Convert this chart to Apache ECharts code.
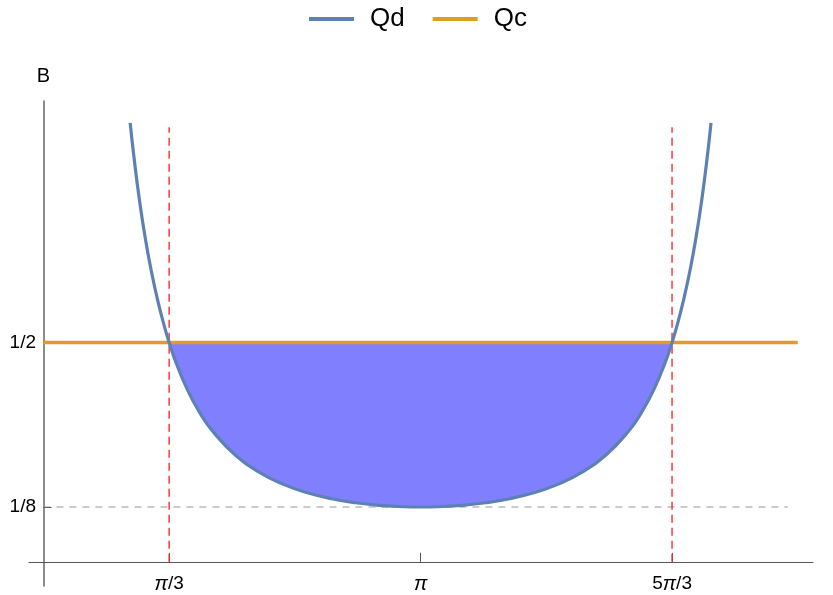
<!DOCTYPE html>
<html>
<head>
<meta charset="utf-8">
<script src="https://cdn.jsdelivr.net/npm/echarts@6/dist/echarts.min.js"></script>
<style>
html,body{margin:0;padding:0;background:#fff}
#chart{width:833px;height:595px}
</style>
</head>
<body>
<div id="chart"></div>
<script>
const PI = Math.PI;
// 取样点 theta (rad) 与 Qd 读数
const thetaValues = [0.7227, 0.75, 0.8, 0.85, 0.9, 0.95, 1.0, 1.0472, 1.1, 1.2, 1.3, 1.4, 1.6, 1.8, 2.0, 2.2, 2.4, 2.6, 2.8, 3.0, 3.1416,
    3.2832, 3.4832, 3.6832, 3.8832, 4.0832, 4.2832, 4.4832, 4.6832, 4.8832, 4.9832, 5.0832, 5.1832, 5.2360, 5.2832, 5.3332, 5.3832, 5.4332, 5.4832, 5.5332, 5.5605];
const qdValues = [1.0, 0.932, 0.824, 0.735, 0.661, 0.598, 0.544, 0.5, 0.4575, 0.392, 0.341, 0.301, 0.243, 0.2037, 0.1765, 0.1574, 0.1439, 0.1346, 0.1287, 0.1256, 0.125,
    0.1256, 0.1287, 0.1346, 0.1439, 0.1574, 0.1765, 0.2037, 0.243, 0.301, 0.341, 0.392, 0.4575, 0.5, 0.544, 0.598, 0.661, 0.735, 0.824, 0.932, 1.0];
const qcRange = [0, 2 * PI];
const qcValue = 0.5;
const cutX = [PI / 3, 5 * PI / 3];
const cutTop = 0.99;
const floorY = 0.125;
const floorRange = [0, 6.2];
const xTickValues = [PI / 3, PI, 5 * PI / 3];
const xTickLabels = ['{i|π}/3', '{i|π}', '5{i|π}/3'];
const yTickValues = [0.125, 0.5];
const yTickLabels = ['1/8', '1/2'];

let chart = echarts.init(document.getElementById('chart'));
const font = 'Liberation Sans, Arial, sans-serif';

let qdData = thetaValues.map((t, i) => [t, qdValues[i]]);
//填充区域 Qd<Qc
let fillData = qdData.filter(p => p[0] >= cutX[0] - 1e-3 && p[0] <= cutX[1] + 1e-3);
let qcData = qcRange.map(t => [t, qcValue]);
let floorData = floorRange.map(t => [t, floorY]);

let option = {
    animation: false,
    backgroundColor: '#fff',
    legend: {
        data: ['Qd', 'Qc'],
        top: 6,
        left: 309,
        padding: 0,
        icon: 'rect',
        itemWidth: 45,
        itemHeight: 4,
        itemGap: 28,
        textStyle: {fontSize: 26, fontFamily: font, color: '#000', padding: [0, 0, 0, 11]}
    },
    grid: {left: 29, right: 20, top: 101, bottom: 9, containLabel: false, outerBoundsMode: 'none'},
    xAxis: {
        type: 'value',
        min: -0.12,
        max: 6.41,
        splitLine: {show: false},
        axisLine: {onZero: true, lineStyle: {color: '#555', width: 1.2}},
        axisTick: {show: true, inside: true, length: 9, customValues: xTickValues, lineStyle: {color: '#555'}},
        axisLabel: {
            customValues: xTickValues,
            margin: -12,
            formatter: function (v) {
                let i = xTickValues.findIndex(t => Math.abs(t - v) < 1e-6);
                return i >= 0 ? xTickLabels[i] : '';
            },
            color: '#000',
            fontSize: 19,
            fontFamily: font,
            rich: {i: {fontStyle: 'italic', fontSize: 20, fontFamily: font, color: '#000'}}
        }
    },
    yAxis: {
        type: 'value',
        min: -0.055,
        max: 1.05,
        name: 'B',
        nameLocation: 'end',
        nameGap: 15,
        nameTextStyle: {fontSize: 20, fontFamily: font, color: '#000', align: 'center'},
        splitLine: {show: false},
        axisLine: {onZero: true, lineStyle: {color: '#666', width: 1.5}},
        axisTick: {show: true, inside: true, length: 8, customValues: yTickValues, lineStyle: {color: '#333'}},
        axisLabel: {
            customValues: yTickValues,
            margin: -7,
            formatter: function (v) {
                let i = yTickValues.findIndex(t => Math.abs(t - v) < 1e-6);
                return i >= 0 ? yTickLabels[i] : '';
            },
            color: '#000',
            fontSize: 19,
            fontFamily: font
        }
    },
    series: [
        {
            name: 'fill',
            type: 'line',
            data: fillData,
            showSymbol: false,
            smooth: 0.5,
            lineStyle: {width: 0},
            areaStyle: {color: '#8080ff', opacity: 1, origin: qcValue},
            silent: true,
            z: 1
        },
        {
            name: 'floor',
            type: 'line',
            data: floorData,
            showSymbol: false,
            lineStyle: {color: '#999', width: 1.2, type: [7, 6]},
            silent: true,
            z: 2
        },
        ...cutX.map(x => ({
            name: 'cut',
            type: 'line',
            data: [[x, 0], [x, cutTop]],
            showSymbol: false,
            lineStyle: {color: '#ff2a2a', width: 1.4, type: [8, 5]},
            silent: true,
            z: 3
        })),
        {
            name: 'Qc',
            type: 'line',
            data: qcData,
            showSymbol: false,
            color: '#e19c24',
            lineStyle: {color: '#e19c24', width: 3.5},
            z: 4
        },
        {
            name: 'Qd',
            type: 'line',
            data: qdData,
            showSymbol: false,
            smooth: 0.5,
            color: '#5e81b5',
            lineStyle: {color: '#5e81b5', width: 3.2},
            z: 5
        }
    ]
};
chart.setOption(option);
</script>
</body>
</html>
